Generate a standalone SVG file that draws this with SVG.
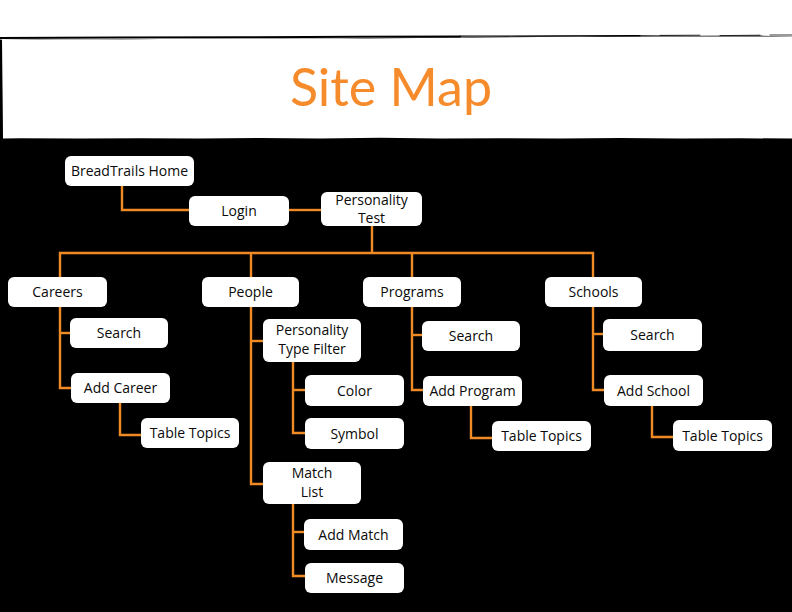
<svg xmlns="http://www.w3.org/2000/svg" width="792" height="612" viewBox="0 0 792 612">
  <style>
    .box { fill: #ffffff; }
    .lbl { font-family: "Open Sans", "Liberation Sans", sans-serif; font-size: 14px; fill: #0a0a0a; text-anchor: middle; }
    .wire { fill: none; stroke: #f08a24; stroke-width: 2.4; stroke-linejoin: miter; }
  </style>

  <!-- page background -->
  <rect x="0" y="0" width="792" height="612" fill="#000000"/>
  <rect x="0" y="0" width="792" height="34" fill="#ffffff"/>

  <!-- rough brushed title band -->
  <path d="M0,34 L792,34 L792,36.5 L760,35.6 L700,35.8 L640,35.2 L580,36.4 L520,36.2 L460,37.2 L400,37.6 L340,38.4 L280,38.6 L220,38.8 L160,39 L100,39.4 L40,39.6 L0,40 Z" fill="#ffffff"/>
  <path d="M2,40 L60,39.6 L120,39.4 L180,38.8 L240,38.6 L300,38.6 L360,38.4 L420,38 L480,37.4 L540,37 L600,36.8 L660,36.6 L720,36.4 L792,36.6 L792,138.6 L740,138.2 L680,138.6 L620,138 L560,138.4 L500,138.2 L440,138.6 L380,137.8 L320,138.4 L260,138 L200,138.6 L140,138.2 L80,138.6 L20,138.2 L3,138.4 Z" fill="#ffffff"/>
  <g stroke="#000000" stroke-linecap="round" fill="none">
    <path d="M0,38 L120,37.6 L240,37.2 L360,36.8 L460,36.4" stroke-width="2"/>
    <path d="M460,36.2 L560,35.8 L640,35.6" stroke-width="1.2"/>
    <path d="M660,35.4 L700,35.2 M720,35.6 L760,35.2 M770,35 L792,35" stroke-width="0.8"/>
    <path d="M1,40 L1.5,138" stroke-width="1.6"/>
  </g>

  <text x="391" y="106" font-family="Lato, 'Open Sans', sans-serif" font-size="52" fill="#f68b2c" text-anchor="middle">Site Map</text>

  <!-- connectors -->
  <g id="connectors" class="wire">
    <path d="M122,186 V210 H189"/>
    <path d="M289,210 H321"/>
    <path d="M372,226 V253"/>
    <path d="M60,277 V253 H593 V277"/>
    <path d="M251,253 V277"/>
    <path d="M412,253 V277"/>
    <!-- Careers -->
    <path d="M60,307 V388 H71"/>
    <path d="M60,333 H70"/>
    <path d="M120,403 V435 H141"/>
    <!-- People -->
    <path d="M251,307 V484 H263"/>
    <path d="M251,341 H263"/>
    <path d="M293,362 V433 H305"/>
    <path d="M293,390 H305"/>
    <path d="M293,504 V576 H305"/>
    <path d="M293,532 H304"/>
    <!-- Programs -->
    <path d="M412,307 V390 H423"/>
    <path d="M412,335 H422"/>
    <path d="M471,406 V438 H492"/>
    <!-- Schools -->
    <path d="M593,307 V390 H604"/>
    <path d="M593,334 H603"/>
    <path d="M652,406 V437 H673"/>
  </g>

  <!-- nodes -->
  <g id="home"><rect class="box" x="65" y="156" width="129" height="30" rx="6"/><text class="lbl" x="129.5" y="176">BreadTrails Home</text></g>
  <g id="login"><rect class="box" x="189" y="196" width="100" height="30" rx="6"/><text class="lbl" x="239" y="216">Login</text></g>
  <g id="personality-test"><rect class="box" x="321" y="192" width="101" height="34" rx="6"/><text class="lbl" x="371.5" y="204.5">Personality</text><text class="lbl" x="371.5" y="223">Test</text></g>

  <g id="careers"><rect class="box" x="8" y="277" width="99" height="30" rx="6"/><text class="lbl" x="57.5" y="297">Careers</text></g>
  <g id="people"><rect class="box" x="202" y="277" width="97" height="30" rx="6"/><text class="lbl" x="250.5" y="297">People</text></g>
  <g id="programs"><rect class="box" x="363" y="277" width="98" height="30" rx="6"/><text class="lbl" x="412" y="297">Programs</text></g>
  <g id="schools"><rect class="box" x="545" y="277" width="97" height="30" rx="6"/><text class="lbl" x="593.5" y="297">Schools</text></g>

  <g id="careers-search"><rect class="box" x="70" y="318" width="98" height="30" rx="6"/><text class="lbl" x="119" y="338">Search</text></g>
  <g id="add-career"><rect class="box" x="71" y="373" width="99" height="30" rx="6"/><text class="lbl" x="120.5" y="393">Add Career</text></g>
  <g id="careers-table-topics"><rect class="box" x="141" y="418" width="98" height="30" rx="6"/><text class="lbl" x="190" y="438">Table Topics</text></g>

  <g id="type-filter"><rect class="box" x="263" y="319" width="98" height="43" rx="6"/><text class="lbl" x="312" y="335">Personality</text><text class="lbl" x="312" y="354">Type Filter</text></g>
  <g id="color"><rect class="box" x="305" y="375" width="99" height="31" rx="6"/><text class="lbl" x="354.5" y="395.5">Color</text></g>
  <g id="symbol"><rect class="box" x="305" y="418" width="99" height="31" rx="6"/><text class="lbl" x="354.5" y="438.5">Symbol</text></g>
  <g id="match-list"><rect class="box" x="263" y="462" width="98" height="42" rx="6"/><text class="lbl" x="312" y="478">Match</text><text class="lbl" x="312" y="497">List</text></g>
  <g id="add-match"><rect class="box" x="304" y="519" width="99" height="31" rx="6"/><text class="lbl" x="353.5" y="539.5">Add Match</text></g>
  <g id="message"><rect class="box" x="305" y="563" width="99" height="30" rx="6"/><text class="lbl" x="354.5" y="583">Message</text></g>

  <g id="programs-search"><rect class="box" x="422" y="321" width="98" height="30" rx="6"/><text class="lbl" x="471" y="341">Search</text></g>
  <g id="add-program"><rect class="box" x="423" y="376" width="99" height="30" rx="6"/><text class="lbl" x="472.5" y="396">Add Program</text></g>
  <g id="programs-table-topics"><rect class="box" x="492" y="421" width="99" height="30" rx="6"/><text class="lbl" x="541.5" y="441">Table Topics</text></g>

  <g id="schools-search"><rect class="box" x="603" y="319" width="99" height="32" rx="6"/><text class="lbl" x="652.5" y="340">Search</text></g>
  <g id="add-school"><rect class="box" x="604" y="375" width="99" height="31" rx="6"/><text class="lbl" x="653.5" y="395.5">Add School</text></g>
  <g id="schools-table-topics"><rect class="box" x="673" y="420" width="99" height="31" rx="6"/><text class="lbl" x="722.5" y="440.5">Table Topics</text></g>
</svg>
